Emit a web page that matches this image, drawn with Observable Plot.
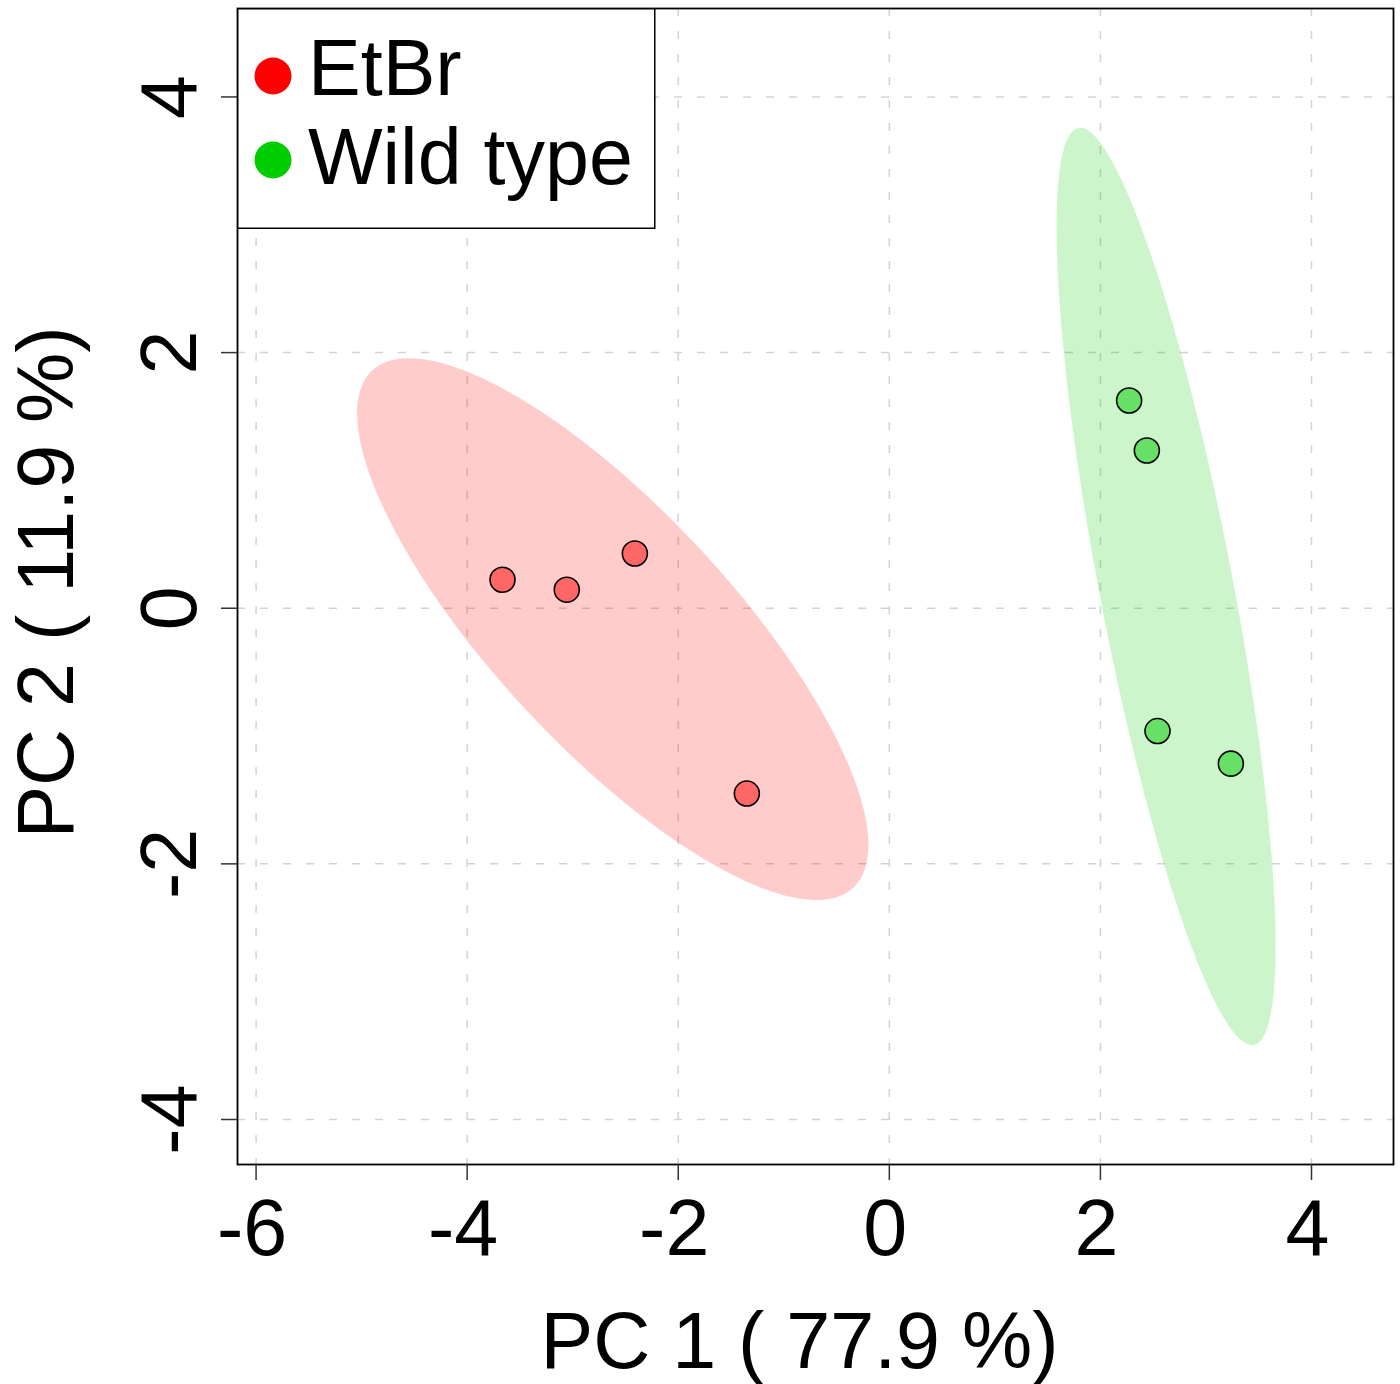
<!DOCTYPE html>
<html><head><meta charset="utf-8">
<script src="https://cdn.jsdelivr.net/npm/d3@7"></script>
<script src="https://cdn.jsdelivr.net/npm/@observablehq/plot@0.6"></script>
<style>
html,body{margin:0;padding:0;background:#fff;}
#wrap{position:relative;width:1400px;height:1384px;font-family:"Liberation Sans",Arial,Helvetica,sans-serif;}
#legend{position:absolute;left:237px;top:8px;}
</style></head><body><div id="wrap"></div>
<script>
// ---- data ----
const groups = ["EtBr", "Wild type"];
const groupColors = ["#FF0000", "#00CD00"];
const pc1EtBr = [-3.665, -3.056, -2.411, -1.350];
const pc2EtBr = [0.223, 0.145, 0.428, -1.450];
const pc1WT = [2.272, 2.440, 2.541, 3.236];
const pc2WT = [1.625, 1.234, -0.961, -1.216];
const xTicks = [-6, -4, -2, 0, 2, 4];
const yTicks = [-4, -2, 0, 2, 4];
const xLabel = "PC 1 ( 77.9 %)";
const yLabel = "PC 2 ( 11.9 %)";
const ellipseLevel = 0.95;

// ---- build tables ----
const series = [[pc1EtBr, pc2EtBr], [pc1WT, pc2WT]];
const points = [];
series.forEach(([xs, ys], i) => xs.forEach((x, j) => points.push({group: groups[i], x, y: ys[j]})));

// normal-theory confidence ellipse from each group's covariance
const radius = Math.sqrt(-2 * Math.log(1 - ellipseLevel));
const ellipses = series.map(([xs, ys], i) => {
  const n = xs.length;
  const mx = d3.mean(xs), my = d3.mean(ys);
  let sxx = 0, syy = 0, sxy = 0;
  for (let k = 0; k < n; k++) {
    sxx += (xs[k] - mx) ** 2; syy += (ys[k] - my) ** 2; sxy += (xs[k] - mx) * (ys[k] - my);
  }
  sxx /= n - 1; syy /= n - 1; sxy /= n - 1;
  const a = Math.sqrt(sxx), b = sxy / a, c = Math.sqrt(syy - b * b);
  return d3.range(0, 201).map(t => {
    const th = (t / 200) * 2 * Math.PI;
    return {group: groups[i], x: mx + radius * a * Math.cos(th), y: my + radius * (b * Math.cos(th) + c * Math.sin(th))};
  });
});

const font = "'Liberation Sans', Arial, Helvetica, sans-serif";
const fs = 79;
const gridStyle = {stroke: "#d3d3d3", strokeOpacity: 1, strokeWidth: 1.5, strokeDasharray: "8,15"};

const chart = Plot.plot({
  width: 1400, height: 1384,
  marginLeft: 237, marginRight: 7, marginTop: 8, marginBottom: 220,
  style: {fontFamily: font, background: "white", color: "black", overflow: "visible"},
  x: {domain: [-6.176, 4.777]},
  y: {domain: [-4.352, 4.692]},
  color: {domain: groups, range: groupColors},
  marks: [
    Plot.gridX(xTicks, gridStyle),
    Plot.gridY(yTicks, gridStyle),
    ...ellipses.map((e, i) => Plot.line(e, {x: "x", y: "y", fill: groupColors[i], fillOpacity: 0.2, stroke: "none", curve: "linear-closed"})),
    Plot.dot(points, {x: "x", y: "y", r: 12.5, fill: "group", fillOpacity: 0.5, stroke: "black", strokeWidth: 1.6}),
    Plot.frame({stroke: "black", strokeWidth: 1.8}),
    // x tick marks
    Plot.axisX(xTicks, {tickSize: 16, tickFormat: () => "", label: null, stroke: "#333", strokeWidth: 1.5}),
    // x tick labels
    Plot.axisX(xTicks, {tickSize: 0, tickPadding: 34, dx: -4, fontSize: fs, tickFormat: d => String(d), label: null}),
    Plot.axisY(yTicks, {tickSize: 16, tickPadding: 26, tickRotate: -90, textAnchor: "middle", lineAnchor: "bottom", fontSize: fs, tickFormat: d => String(d), label: null, stroke: "#333", strokeWidth: 1.5}),
    Plot.text([xLabel], {text: d => d, frameAnchor: "bottom", dy: 203, dx: -16, textAnchor: "middle", lineAnchor: "bottom", fontSize: fs}),
    Plot.text([yLabel], {text: d => d, frameAnchor: "left", dx: -165, dy: -4, rotate: -90, textAnchor: "middle", lineAnchor: "bottom", fontSize: fs})
  ]
});
const wrap = document.getElementById("wrap");
wrap.appendChild(chart);

// legend box (top-left inside the plot frame)
const lg = d3.select(wrap).append("svg").attr("id", "legend").attr("width", 419).attr("height", 221)
  .style("font-family", font);
lg.append("rect").attr("x", 0.75).attr("y", 0.75).attr("width", 417).attr("height", 219.5)
  .attr("fill", "white").attr("stroke", "black").attr("stroke-width", 1.5);
groups.forEach((g, i) => {
  lg.append("circle").attr("cx", 36).attr("cy", 68 + i * 84).attr("r", 18.5).attr("fill", groupColors[i]);
  lg.append("text").attr("x", 71).attr("y", 87 + i * 89).attr("font-size", fs).attr("fill", "black").text(g);
});
</script>
</body></html>
